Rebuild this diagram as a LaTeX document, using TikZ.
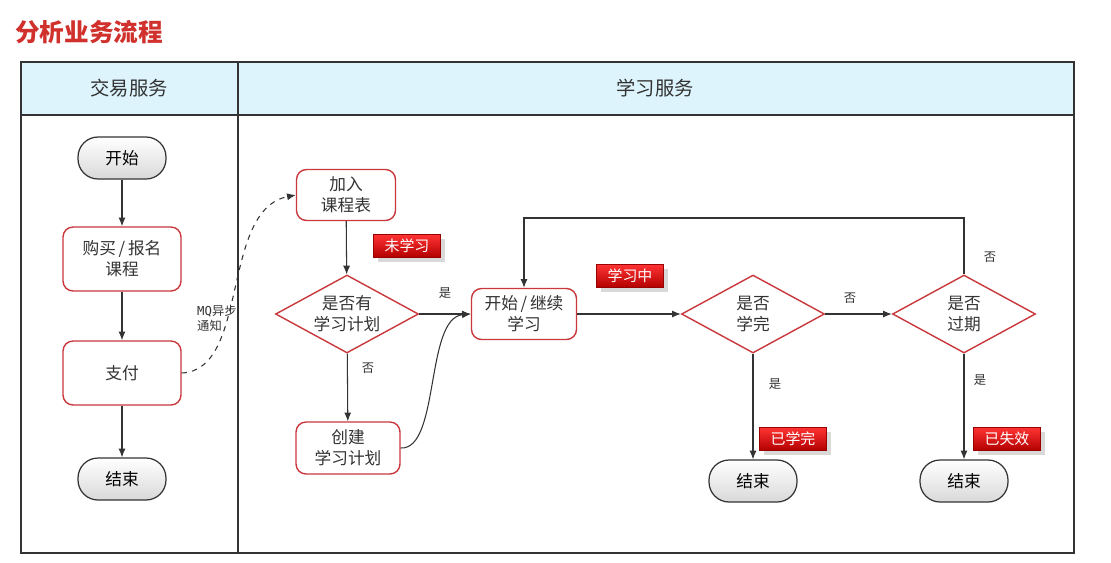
\documentclass[tikz,border=0pt]{standalone}
\usepackage{fontspec}
\setmainfont{Noto Sans CJK SC}
\newfontfamily\mqfont{DejaVu Sans Mono}
\usetikzlibrary{shapes.geometric,arrows.meta,shadows}

\definecolor{headfill}{HTML}{DDF4FC}
\definecolor{boxred}{HTML}{C8383C}
\definecolor{inkgray}{HTML}{333333}
\definecolor{titlered}{HTML}{D0312D}

\begin{document}
\begin{tikzpicture}[
    x=0.02cm, y=-0.02cm,
    terminal/.style={rectangle, rounded corners=0.4cm, draw=inkgray, line width=0.7pt, top color=white, bottom color=gray!30, minimum width=1.76cm, minimum height=0.84cm, font=\fontsize{9.5}{12}\selectfont, text=black},
    proc/.style={rectangle, draw=boxred, line width=0.8pt, rounded corners=0.2cm, fill=white, align=center, font=\fontsize{9.5}{12}\selectfont, text=inkgray},
    decision/.style={diamond, draw=boxred, line width=0.8pt, aspect=1.83, inner sep=0pt, minimum width=2.86cm, minimum height=1.56cm, align=center, font=\fontsize{9.5}{12}\selectfont, text=inkgray},
    tag/.style={rectangle, top color=red!80, bottom color=red!70!black, draw=red!60!black, line width=0.3pt, text=white, minimum width=1.34cm, minimum height=0.46cm, inner sep=1pt, drop shadow={opacity=0.3}, font=\fontsize{8.5}{10}\selectfont},
    flow/.style={-{Latex[length=5pt,width=4pt]}, draw=inkgray, line width=0.6pt},
    note/.style={font=\fontsize{7}{8.5}\selectfont, text=inkgray}
]
\useasboundingbox (0,0) rectangle (1111,562);

% Title
\node[font=\fontsize{14}{16}\selectfont\bfseries, text=titlered] (title) at (89,32) {分析业务流程};

% Swimlanes
\fill[headfill] (21,62) rectangle (1074,115);
\draw[inkgray, line width=0.7pt] (21,62) rectangle (1074,553);
\draw[inkgray, line width=0.7pt] (21,115) -- (1074,115);
\draw[inkgray, line width=0.7pt] (238,62) -- (238,553);
\node[font=\fontsize{11}{13}\selectfont, text=inkgray] (tradehead) at (129,88) {交易服务};
\node[font=\fontsize{11}{13}\selectfont, text=inkgray] (studyhead) at (655,88) {学习服务};

% Trade service
\node[terminal] (begin) at (122,158) {开始};
\node[proc, minimum width=2.36cm, minimum height=1.28cm] (buy) at (122,259) {购买\,/\,报名\\课程};
\node[proc, minimum width=2.36cm, minimum height=1.28cm] (pay) at (122,373) {支付};
\node[terminal] (tradeend) at (122,479) {结束};

% Study service
\node[proc, minimum width=1.98cm, minimum height=1.02cm] (join) at (346,195) {加入\\课程表};
\node[decision] (hasplan) at (347,314) {是否有\\学习计划};
\node[proc, minimum width=2.08cm, minimum height=1.04cm] (create) at (348,448) {创建\\学习计划};
\node[proc, minimum width=2.1cm, minimum height=1.02cm] (study) at (524,314) {开始\,/\,继续\\学习};
\node[decision] (finished) at (753,314) {是否\\学完};
\node[decision] (expired) at (964,314) {是否\\过期};
\node[terminal] (doneend) at (753,481) {结束};
\node[terminal] (expend) at (964,481) {结束};

% Status tags
\node[tag] (notyet) at (407,246) {未学习};
\node[tag] (learning) at (630,276) {学习中};
\node[tag] (learned) at (793,439) {已学完};
\node[tag] (invalid) at (1007,439) {已失效};

% Arrows
\draw[flow] (begin) -- (buy);
\draw[flow] (buy) -- (pay);
\draw[flow] (pay) -- (tradeend);
\draw[flow, dashed] (pay.east) .. controls (250,370) and (220,210) .. (join.west);
\draw[flow] (join) -- (hasplan);
\draw[flow] (hasplan) -- (study);
\draw[flow] (hasplan) -- (create);
\draw[flow] (create.east) .. controls (440,450) and (425,318) .. (study.west);
\draw[flow] (study) -- (finished);
\draw[flow] (finished) -- (expired);
\draw[flow] (finished) -- (doneend);
\draw[flow] (expired) -- (expend);
\coordinate (looptop) at (964,218);
\draw[flow] (expired.north) -- (looptop) -| (study.north);

% Labels
\node[note, align=left, anchor=west] (mq) at (191,318) {{\mqfont MQ}异步\\通知};
\node[note] (yes1) at (445,293) {是};
\node[note] (no1) at (368,368) {否};
\node[note] (no2) at (850,298) {否};
\node[note] (no3) at (990,257) {否};
\node[note] (yes2) at (775,384) {是};
\node[note] (yes3) at (980,380) {是};
\end{tikzpicture}
\end{document}
